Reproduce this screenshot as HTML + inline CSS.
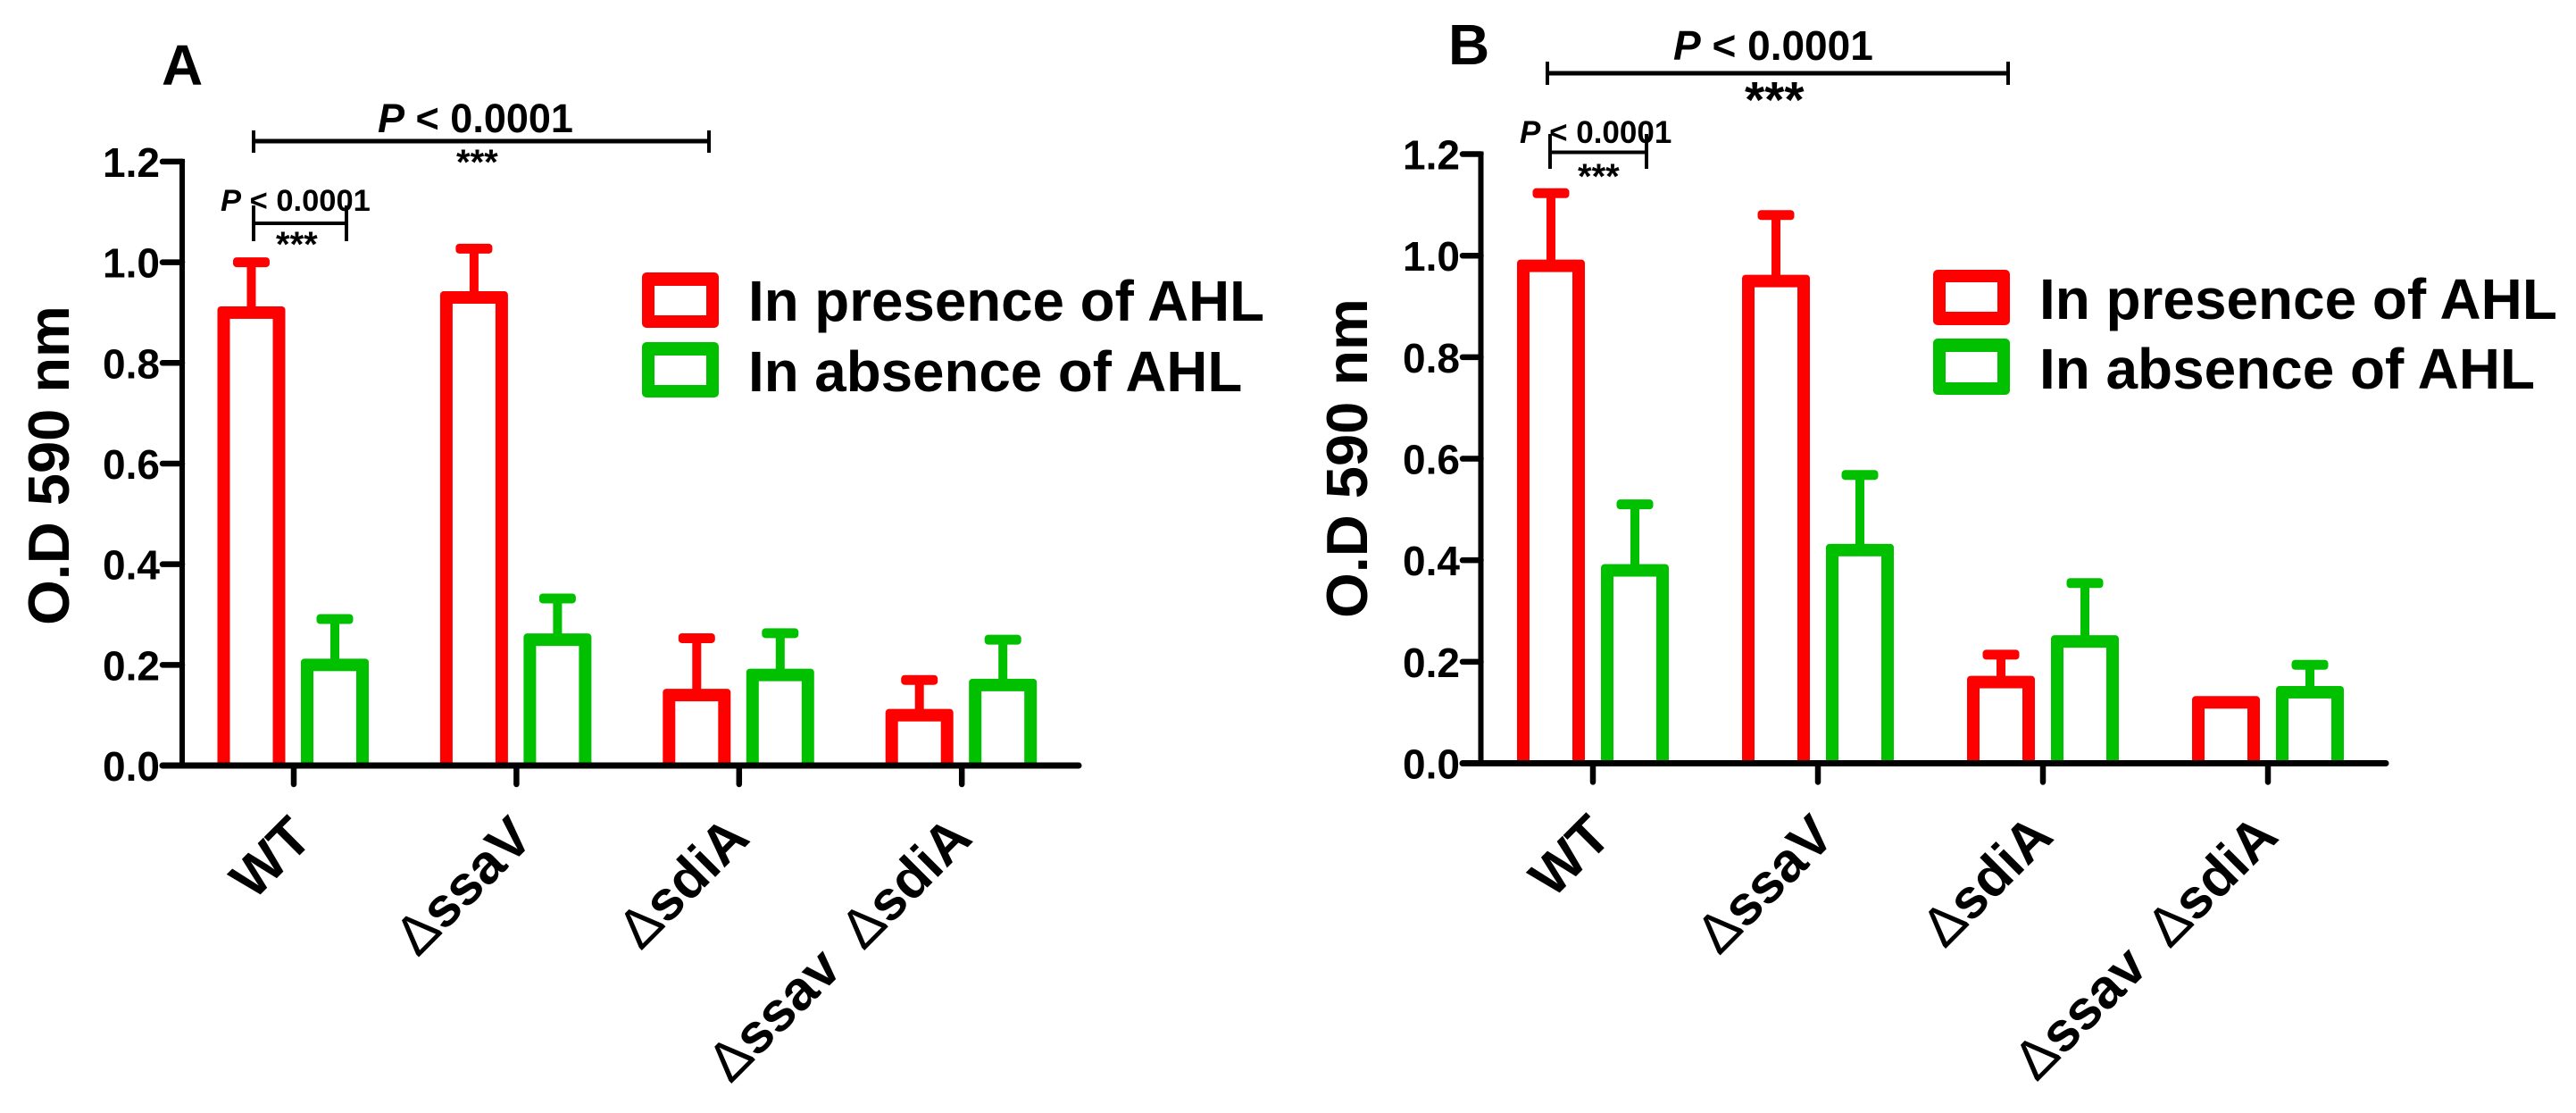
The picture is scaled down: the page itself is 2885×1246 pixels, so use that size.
<!DOCTYPE html>
<html lang="en">
<head>
<meta charset="utf-8">
<title>O.D 590 nm with and without AHL</title>
<style>
html,body{margin:0;padding:0;background:#fff;}
svg{display:block;}
text{font-family:"Liberation Sans",sans-serif;font-weight:bold;fill:#000;}
</style>
</head>
<body>
<svg id="chart" xmlns="http://www.w3.org/2000/svg" width="2885" height="1246" viewBox="0 0 2885 1246">
<rect x="0" y="0" width="2885" height="1246" fill="#fff"/>
<g id="panelA"></g>
<g id="panelB"></g>

<text x="181" y="95" font-size="64">A</text>
<text x="1622" y="72" font-size="64">B</text>
<text transform="translate(77,521) rotate(-90)" text-anchor="middle" font-size="65">O.D 590 nm</text>
<text transform="translate(1531,513) rotate(-90)" text-anchor="middle" font-size="65">O.D 590 nm</text>

<g stroke="#000" fill="none">
<path d="M284 158H794" stroke-width="5"/><path d="M284 146V171M794 146V171" stroke-width="4"/>
</g>
<text x="423" y="148" font-size="45"><tspan font-style="italic">P</tspan> &lt; 0.0001</text>
<text x="511" y="195" font-size="40">***</text>
<g stroke="#000" fill="none">
<path d="M284 250H388" stroke-width="4"/><path d="M284 230V270M388 230V270" stroke-width="4"/>
</g>
<text x="247" y="236" font-size="34.5"><tspan font-style="italic">P</tspan> &lt; 0.0001</text>
<text x="309" y="287" font-size="40">***</text>

<g stroke="#000" fill="none">
<path d="M1733 82H2249" stroke-width="5"/><path d="M1733 69V95M2249 69V95" stroke-width="4"/>
</g>
<text x="1874" y="67" font-size="46">
<tspan font-style="italic">P</tspan> &lt; 0.0001</text>
<text x="1954" y="131" font-size="57">***</text>
<g stroke="#000" fill="none">
<path d="M1736 170.5H1844" stroke-width="4"/><path d="M1736 150V189M1844 150V189" stroke-width="4"/>
</g>
<text x="1702" y="160" font-size="35"><tspan font-style="italic">P</tspan> &lt; 0.0001</text>
<text x="1767" y="211" font-size="40">***</text>

<g>
<g>
<rect x="719" y="305" width="86" height="62" rx="5" fill="#ff0000"/><rect x="733" y="320" width="58" height="33" fill="#fff"/>
<text x="838" y="359" font-size="63.7">In presence of AHL</text>
</g>
<g>
<rect x="719" y="383" width="86" height="62" rx="5" fill="#00c000"/><rect x="733" y="398" width="58" height="33" fill="#fff"/>
<text x="838" y="438" font-size="63.7">In absence of AHL</text>
</g>
</g>
<g>
<g>
<rect x="2165" y="302" width="86" height="62" rx="5" fill="#ff0000"/><rect x="2179" y="316" width="58" height="33" fill="#fff"/>
<text x="2284" y="357" font-size="63.9">In presence of AHL</text>
</g>
<g>
<rect x="2165" y="379" width="86" height="63" rx="5" fill="#00c000"/><rect x="2179" y="394" width="58" height="34" fill="#fff"/>
<text x="2284" y="435" font-size="63.9">In absence of AHL</text>
</g>
</g>
</svg>
<script>
const categories = ['WT', 'ΔssaV', 'ΔsdiA', 'Δssav ΔsdiA'];
const yTickValues = [0, 0.2, 0.4, 0.6, 0.8, 1.0, 1.2];
const aPresence = [0.90, 0.93, 0.14, 0.10];
const aPresenceErr = [0.10, 0.097, 0.113, 0.07];
const aAbsence = [0.20, 0.25, 0.18, 0.16];
const aAbsenceErr = [0.091, 0.082, 0.083, 0.09];
const bPresence = [0.98, 0.95, 0.16, 0.12];
const bPresenceErr = [0.143, 0.13, 0.054, 0];
const bAbsence = [0.38, 0.42, 0.24, 0.14];
const bAbsenceErr = [0.13, 0.148, 0.115, 0.054];

const RED = '#ff0000';
const GREEN = '#00c000';
const SVG_NS = 'http://www.w3.org/2000/svg';
const labelNudge = { 'WT': 23, 'ΔssaV': 21, 'ΔsdiA': 14, 'Δssav ΔsdiA': 14 };

function make(parent, tag, attrs) {
  const el = document.createElementNS(SVG_NS, tag);
  for (const k in attrs) el.setAttribute(k, attrs[k]);
  parent.appendChild(el);
  return el;
}

function slug(s) {
  return s.replace(/Δ/g, 'delta-').replace(/\s+/g, '-').toLowerCase();
}

function drawBar(g, cx, val, err, color, yScale, base, prefix) {
  const half = 38;
  const stroke = 7;
  const yTop = yScale(val);
  const bar = make(g, 'g', {});
  
  
  make(bar, 'rect', { x: cx - half, y: yTop - stroke, width: half * 2, height: base - yTop + stroke, rx: 4, fill: color });
  make(bar, 'rect', { x: cx - half + 14, y: yTop + stroke, width: half * 2 - 28, height: Math.max(0, base - yTop - stroke), fill: '#fff' });
  if (err > 0) {
    const yErr = yScale(val + err);
    const eb = make(g, 'g', {});
    
    
    make(eb, 'rect', { x: cx - 5, y: yErr, width: 10, height: yTop - yErr, fill: color });
    make(eb, 'rect', { x: cx - 20.5, y: yErr - 5.5, width: 41, height: 11, rx: 4, fill: color });
  }
}

function drawPanel(id, p, presence, presenceErr, absence, absenceErr) {
  const g = document.getElementById(id);
  const yScale = v => p.base - v * p.unit;
  const xScale = i => p.tick0 + i * p.step;

  categories.forEach((name, i) => {
    drawBar(g, xScale(i) + p.redOffset, presence[i], presenceErr[i], RED, yScale, p.base, 'presence-' + slug(name));
    drawBar(g, xScale(i) + p.greenOffset, absence[i], absenceErr[i], GREEN, yScale, p.base, 'absence-' + slug(name));
  });

  const yAxis = make(g, 'path', { d: 'M' + p.axisX + ' ' + (yScale(1.2) - 3) + 'V' + p.base, stroke: '#000', 'stroke-width': 6, fill: 'none' });
  
  
  const xAxis = make(g, 'path', { d: 'M' + p.axisLeft + ' ' + p.base + 'H' + p.axisRight, stroke: '#000', 'stroke-width': 7, 'stroke-linecap': 'round', fill: 'none' });
  
  

  yTickValues.forEach(v => {
    const t = make(g, 'path', { d: 'M' + p.axisLeft + ' ' + yScale(v) + 'H' + p.axisX, stroke: '#000', 'stroke-width': 6.5, 'stroke-linecap': 'round', fill: 'none' });
    
    
    const label = make(g, 'text', { x: p.axisLeft - 3, y: yScale(v) + 17, 'text-anchor': 'end', 'font-size': 46 });
    
    
    label.textContent = v.toFixed(1);
  });

  categories.forEach((name, i) => {
    const t = make(g, 'path', { d: 'M' + xScale(i) + ' ' + p.base + 'V' + (p.base + 21), stroke: '#000', 'stroke-width': 6.5, 'stroke-linecap': 'round', fill: 'none' });
    
    
    const lx = xScale(i) + labelNudge[name];
    const ly = p.labelY;
    const label = make(g, 'text', { transform: 'translate(' + lx + ',' + ly + ') rotate(-45)', 'text-anchor': 'end', 'font-size': 62, style: 'word-spacing:14px' });
    
    
    name.split(/(Δ)/).forEach(part => {
      if (!part) return;
      const s = make(label, 'tspan', part === 'Δ' ? { 'font-weight': 'normal' } : {});
      s.textContent = part;
    });
  });
}

drawPanel('panelA',
  { base: 857, unit: 563.4, tick0: 329, step: 249.4, redOffset: -47.5, greenOffset: 46, axisX: 204, axisLeft: 182, axisRight: 1208, labelY: 941 },
  aPresence, aPresenceErr, aAbsence, aAbsenceErr);
drawPanel('panelB',
  { base: 854.5, unit: 568.3, tick0: 1784, step: 252, redOffset: -47, greenOffset: 47, axisX: 1658.5, axisLeft: 1638, axisRight: 2672, labelY: 939 },
  bPresence, bPresenceErr, bAbsence, bAbsenceErr);
</script>
</body>
</html>
